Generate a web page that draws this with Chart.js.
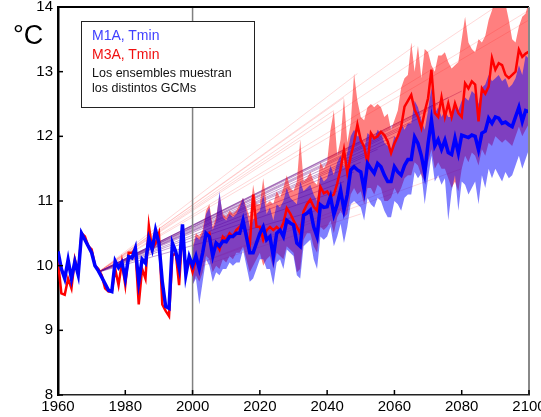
<!DOCTYPE html>
<html>
<head>
<meta charset="utf-8">
<script src="https://cdn.jsdelivr.net/npm/chart.js@4.4.0/dist/chart.umd.min.js"></script>
<style>
  body { margin: 0; background: #fff; }
  #wrap { position: relative; width: 541px; height: 417px; font-family: "Liberation Sans", Arial, Helvetica, sans-serif; }
  #unidad { position: absolute; left: 13px; top: 20px; font-size: 27px; line-height: 30px; color: #000; }
  #leyenda { position: absolute; left: 81px; top: 21px; width: 172px; height: 85px; border: 1px solid #222; background: #fff; }
  #leyenda div { position: absolute; left: 10px; white-space: nowrap; }
  .l1 { top: 5px; font-size: 14px; color: #4040ff; }
  .l2 { top: 24px; font-size: 14px; color: #f01010; }
  .l3 { top: 44px; font-size: 12.5px; color: #111; }
  .l4 { top: 59px; font-size: 12.5px; color: #111; }
</style>
</head>
<body>
<div id="wrap">
  <canvas id="grafico" width="541" height="417"></canvas>
  <div id="unidad">°C</div>
  <div id="leyenda">
    <div class="l1">M1A, Tmin</div>
    <div class="l2">M3A, Tmin</div>
    <div class="l3">Los ensembles muestran</div>
    <div class="l4">los distintos GCMs</div>
  </div>
</div>
<script>
// Años: histórico 1960-1999, escenarios 2000-2100
const anioInicioHist = 1960;
const anioInicioEsc = 2000;

// Observado (1960-1999)
const histM1A = [
  10.22, 9.95, 9.8, 10.09, 9.8, 10.06, 9.86, 10.5, 10.4, 10.3,
  10.2, 10.0, 9.92, 9.82, 9.72, 9.62, 9.6, 10.07, 9.97, 10.05,
  9.8, 10.14, 10.12, 10.27, 9.75, 10.1, 10.04, 10.42, 10.25, 10.55,
  10.35, 9.75, 9.37, 9.34, 10.35, 10.22, 9.97, 10.64, 9.86, 10.14
];
const histM3A = [
  10.07, 9.57, 9.55, 9.8, 9.65, 10.1, 9.9, 10.5, 10.45, 10.3,
  10.25, 10.0, 9.95, 9.85, 9.65, 9.6, 9.6, 9.95, 9.7, 10.05,
  9.7, 10.2, 10.2, 10.25, 9.4, 9.95, 9.8, 10.62, 10.25, 10.35,
  10.5, 9.4, 9.3, 9.22, 10.15, 10.2, 9.7, 10.55, 9.9, 10.1
];

// Media del ensemble (2000-2100)
const mediaM1A = [
  10.0, 10.15, 9.95, 10.2, 10.5, 10.45, 10.15, 10.35, 10.3, 10.38,
  10.37, 10.45, 10.45, 10.5, 10.5, 10.7, 10.45, 10.2, 10.2, 10.35,
  10.5, 10.6, 10.4, 10.45, 10.14, 10.5, 10.55, 10.45, 10.7, 10.66,
  10.63, 10.35, 10.3, 10.78, 10.81, 10.86, 10.6, 10.45, 10.94, 10.9,
  10.91, 11.07, 10.79, 10.95, 11.17, 10.86, 11.1, 11.48, 11.53, 11.48,
  11.45, 11.17, 11.58, 11.5, 11.43, 11.58, 11.53, 11.4, 11.3, 11.3,
  11.53, 11.45, 11.4, 11.55, 11.64, 11.64, 11.99, 11.89, 11.7, 11.43,
  11.89, 12.25, 11.85, 11.95, 11.8, 11.94, 11.75, 11.72, 11.97, 11.74,
  12.02, 12.0, 11.98, 12.02, 12.0, 11.79, 12.05, 12.08, 12.28, 12.2,
  12.3, 12.28, 12.2, 12.22, 12.18, 12.15, 12.3, 12.45, 12.23, 12.4,
  12.38
];
const mediaM3A = [
  9.9, 10.1, 10.0, 10.2, 10.45, 10.5, 10.2, 10.35, 10.25, 10.45,
  10.4, 10.5, 10.45, 10.55, 10.6, 10.65, 10.5, 10.3, 11.1, 10.6,
  10.6, 10.4, 10.55, 10.6, 10.55, 10.6, 10.55, 10.66, 10.89, 10.81,
  10.7, 10.6, 10.5, 10.84, 10.95, 11.02, 10.91, 10.85, 11.22, 11.12,
  11.15, 11.07, 11.1, 11.27, 11.5, 11.79, 11.43, 11.69, 11.9, 12.18,
  11.94, 11.84, 11.58, 12.05, 11.97, 12.0, 12.07, 12.02, 11.92, 11.74,
  11.89, 12.0, 12.15, 12.46, 12.55, 12.64, 12.41, 12.3, 12.13, 12.38,
  12.59, 13.03, 12.36, 12.3, 12.6, 12.3, 12.51, 12.3, 12.51, 12.36,
  12.3, 12.82, 12.74, 12.85, 12.8, 12.23, 12.74, 12.66, 12.77, 13.21,
  13.03, 13.13, 13.1, 12.95, 12.9, 12.95, 13.0, 13.34, 13.23, 13.28,
  13.31
];

// Rango de los GCMs (2000-2100)
const maxM3A = [
  10.3, 10.5, 10.45, 10.55, 10.85, 10.95, 10.6, 10.75, 11.1, 10.8,
  10.75, 10.85, 10.8, 10.85, 10.95, 11.05, 10.9, 10.75, 11.25, 10.95,
  10.95, 11.35, 10.95, 11.0, 10.95, 11.15, 11.05, 11.2, 11.4, 11.2,
  11.15, 11.3, 11.95, 11.3, 11.35, 11.45, 11.3, 11.25, 11.6, 11.5,
  11.6, 12.1, 12.4, 11.7, 11.95, 12.6, 11.9, 12.2, 12.97, 12.55,
  12.3, 12.25, 12.45, 12.5, 12.45, 12.5, 12.45, 12.3, 12.35, 12.1,
  12.25, 12.4, 12.75, 12.9, 12.95, 13.45, 13.0, 13.4, 12.9, 13.35,
  13.3, 13.1, 13.0, 13.25, 13.25, 13.3, 13.15, 13.05, 13.1, 13.15,
  13.5, 13.85, 13.45, 13.35, 13.3, 13.5, 13.45, 13.55, 13.8, 13.95,
  14.1, 14.1, 14.1, 14.05, 13.8, 13.5, 13.45, 13.7, 13.85, 13.9,
  14.1
];
const minM3A = [
  9.7, 9.85, 9.75, 9.9, 10.15, 10.1, 9.9, 10.0, 9.95, 10.1,
  10.05, 10.15, 10.1, 10.2, 10.2, 10.3, 10.1, 9.9, 10.0, 10.1,
  10.2, 10.0, 10.1, 10.15, 9.95, 10.2, 10.15, 10.1, 10.3, 10.25,
  10.2, 9.9, 9.95, 10.4, 10.5, 10.5, 10.3, 10.2, 10.6, 10.55,
  10.6, 10.7, 10.5, 10.75, 10.85, 10.75, 10.8, 11.1, 11.2, 11.1,
  11.15, 10.95, 11.2, 11.2, 11.1, 11.25, 11.2, 11.0, 11.0, 11.05,
  11.2, 11.1, 11.2, 11.35, 11.4, 11.4, 11.6, 11.55, 11.4, 11.3,
  11.6, 11.8, 11.5, 11.6, 11.5, 11.5, 11.35, 11.2, 11.3, 11.15,
  11.5, 11.7, 11.6, 11.75, 11.7, 11.55, 11.8, 11.7, 11.9, 11.85,
  12.0, 11.95, 11.9, 11.95, 11.9, 11.85, 12.0, 12.15, 12.0, 12.1,
  12.2
];
const maxM1A = [
  10.25, 10.45, 10.4, 10.5, 10.8, 10.9, 10.55, 10.7, 11.15, 10.75,
  10.7, 10.8, 10.75, 10.8, 10.9, 11.05, 10.85, 10.6, 10.7, 10.8,
  10.85, 11.1, 10.8, 10.9, 10.7, 10.95, 10.9, 11.0, 11.2, 11.05,
  11.0, 10.95, 11.3, 11.15, 11.2, 11.25, 11.1, 11.0, 11.4, 11.3,
  11.35, 11.55, 11.4, 11.6, 11.7, 11.5, 11.75, 12.0, 12.1, 12.0,
  12.0, 11.8, 12.05, 12.0, 11.95, 12.1, 12.05, 11.9, 11.85, 11.8,
  12.0, 11.95, 12.2, 12.1, 12.2, 12.2, 12.55, 12.45, 12.25, 12.1,
  12.4, 12.75, 12.35, 12.45, 12.3, 12.4, 12.3, 12.3, 12.5, 12.4,
  12.55, 12.6, 12.55, 12.7, 12.65, 12.5, 12.75, 12.8, 12.95, 12.85,
  12.9, 12.95, 12.85, 12.9, 12.75, 12.8, 12.9, 13.1, 12.95, 13.25,
  13.2
];
const minM1A = [
  9.7, 9.8, 9.4, 9.75, 10.1, 10.0, 9.75, 9.9, 9.85, 9.95,
  9.95, 10.05, 10.0, 10.05, 10.05, 10.25, 10.0, 9.75, 9.8, 9.95,
  10.1, 10.1, 9.95, 9.95, 9.7, 10.05, 10.1, 9.95, 10.25, 10.2,
  10.15, 9.85, 9.8, 10.3, 10.35, 10.4, 10.1, 9.95, 10.45, 10.4,
  10.45, 10.6, 10.3, 10.45, 10.65, 10.35, 10.6, 10.95, 11.0, 10.95,
  10.9, 10.7, 11.05, 10.95, 10.9, 11.05, 11.0, 10.85, 10.75, 10.75,
  11.0, 10.95, 10.85, 11.05, 11.1, 11.1, 11.45, 11.35, 11.43, 10.95,
  11.35, 11.7, 11.3, 11.4, 11.25, 11.35, 10.7, 11.15, 11.4, 10.85,
  11.3, 11.25, 11.1, 11.2, 11.3, 10.95, 11.4, 11.2, 11.5, 11.35,
  11.5, 11.4, 11.3, 11.45, 11.35, 11.4, 11.55, 11.7, 11.5, 11.65,
  11.8
];

// Líneas finas de los miembros del ensemble: [año, valor] inicial y finales
const origenAbanico = [1972, 9.9];
const finalesMorados = [
  [2040, 10.9], [2043, 11.15], [2045, 11.3], [2048, 11.45], [2050, 11.6],
  [2052, 11.7], [2055, 11.8], [2058, 11.9], [2060, 12.0], [2062, 12.1],
  [2065, 12.2], [2068, 12.3], [2070, 12.4], [2073, 12.5], [2076, 12.6], [2080, 12.7]
];
const finalesRojos = [
  [2032, 11.94], [2042, 12.4], [2045, 12.6], [2049, 12.97], [2066, 13.4],
  [2090, 14.0], [2100, 13.95], [2100, 13.8]
];
const lineasBajas = [
  [[2000, 10.0], [2060, 11.2]], [[2000, 10.0], [2080, 11.5]], [[2003, 10.0], [2050, 10.8]]
];

// Ejes
const ticksX = [1960, 1980, 2000, 2020, 2040, 2060, 2080, 2100];
const ticksY = [8, 9, 10, 11, 12, 13, 14];
const anioCorte = 2000;

function serie(inicio, valores) {
  return valores.map((v, i) => ({ x: inicio + i, y: v }));
}

const lineaM1A = serie(anioInicioHist, histM1A).concat(serie(anioInicioEsc, mediaM1A));
const lineaM3A = serie(anioInicioHist, histM3A).concat(serie(anioInicioEsc, mediaM3A));

const base = { pointRadius: 0, tension: 0, fill: false };

const datasets = [
  Object.assign({}, base, { data: lineaM1A, borderColor: '#0000ff', borderWidth: 3.5 }),
  Object.assign({}, base, { data: lineaM3A, borderColor: '#ff0000', borderWidth: 2.5 }),
  Object.assign({}, base, { data: [{ x: anioCorte, y: 8 }, { x: anioCorte, y: 14 }], borderColor: '#808080', borderWidth: 1.5 }),
  Object.assign({}, base, { data: serie(anioInicioEsc, minM1A), borderWidth: 0, borderColor: 'rgba(0,0,0,0)' }),
  Object.assign({}, base, { data: serie(anioInicioEsc, maxM1A), borderWidth: 0, borderColor: 'rgba(0,0,0,0)', fill: '-1', backgroundColor: 'rgba(0,0,255,0.5)' }),
  Object.assign({}, base, { data: serie(anioInicioEsc, minM3A), borderWidth: 0, borderColor: 'rgba(0,0,0,0)' }),
  Object.assign({}, base, { data: serie(anioInicioEsc, maxM3A), borderWidth: 0, borderColor: 'rgba(0,0,0,0)', fill: '-1', backgroundColor: 'rgba(255,0,0,0.5)' })
];

finalesMorados.forEach(f => {
  datasets.push(Object.assign({}, base, {
    data: [{ x: origenAbanico[0], y: origenAbanico[1] }, { x: f[0], y: f[1] }],
    borderColor: 'rgba(110,20,140,0.5)', borderWidth: 0.8
  }));
});
finalesRojos.forEach(f => {
  datasets.push(Object.assign({}, base, {
    data: [{ x: origenAbanico[0], y: origenAbanico[1] }, { x: f[0], y: f[1] }],
    borderColor: 'rgba(255,60,60,0.25)', borderWidth: 0.8
  }));
});
lineasBajas.forEach(l => {
  datasets.push(Object.assign({}, base, {
    data: l.map(p => ({ x: p[0], y: p[1] })),
    borderColor: 'rgba(255,60,60,0.25)', borderWidth: 0.8
  }));
});

// Marco superior/derecho y marcas de los ejes hacia dentro
const marco = {
  id: 'marco',
  afterDatasetsDraw(chart) {
    const { ctx, chartArea: a, scales } = chart;
    ctx.save();
    ctx.strokeStyle = '#000';
    ctx.lineWidth = 2;
    ctx.beginPath();
    ctx.moveTo(a.left, a.top); ctx.lineTo(a.right, a.top);
    ctx.stroke();
    ctx.strokeStyle = '#888';
    ctx.beginPath();
    ctx.moveTo(a.right, a.top); ctx.lineTo(a.right, a.bottom);
    ctx.stroke();
    ctx.strokeStyle = '#000';
    ctx.lineWidth = 1.5;
    ticksX.forEach(t => {
      const px = scales.x.getPixelForValue(t);
      ctx.beginPath(); ctx.moveTo(px, a.bottom); ctx.lineTo(px, a.bottom - 5); ctx.stroke();
    });
    ticksY.forEach(t => {
      const py = scales.y.getPixelForValue(t);
      ctx.beginPath(); ctx.moveTo(a.left, py); ctx.lineTo(a.left + 5, py); ctx.stroke();
    });
    ctx.restore();
  }
};

const fuenteEjes = { size: 15, family: '"Liberation Sans", Arial, sans-serif' };

new Chart(document.getElementById('grafico'), {
  type: 'line',
  data: { datasets: datasets },
  options: {
    responsive: false,
    animation: false,
    events: [],
    layout: { padding: { left: 0, top: 7, right: 12, bottom: 0 } },
    plugins: { legend: { display: false }, tooltip: { enabled: false } },
    scales: {
      x: {
        type: 'linear', min: 1960, max: 2100,
        afterBuildTicks: s => { s.ticks = ticksX.map(v => ({ value: v })); },
        afterFit: s => { s.height = 22; s.paddingLeft = 0; s.paddingRight = 0; },
        grid: { display: false, drawTicks: false },
        border: { display: true, color: '#222', width: 1.5 },
        ticks: { color: '#000', font: fuenteEjes, padding: 3, maxRotation: 0, autoSkip: false, callback: v => String(v) }
      },
      y: {
        type: 'linear', min: 8, max: 14,
        afterBuildTicks: s => { s.ticks = ticksY.map(v => ({ value: v })); },
        afterFit: s => { s.width = 58; s.paddingTop = 0; s.paddingBottom = 0; },
        grid: { display: false, drawTicks: false },
        border: { display: true, color: '#000', width: 2.5 },
        ticks: { color: '#000', font: fuenteEjes, padding: 5, callback: v => String(v) }
      }
    }
  },
  plugins: [marco]
});
</script>
</body>
</html>
